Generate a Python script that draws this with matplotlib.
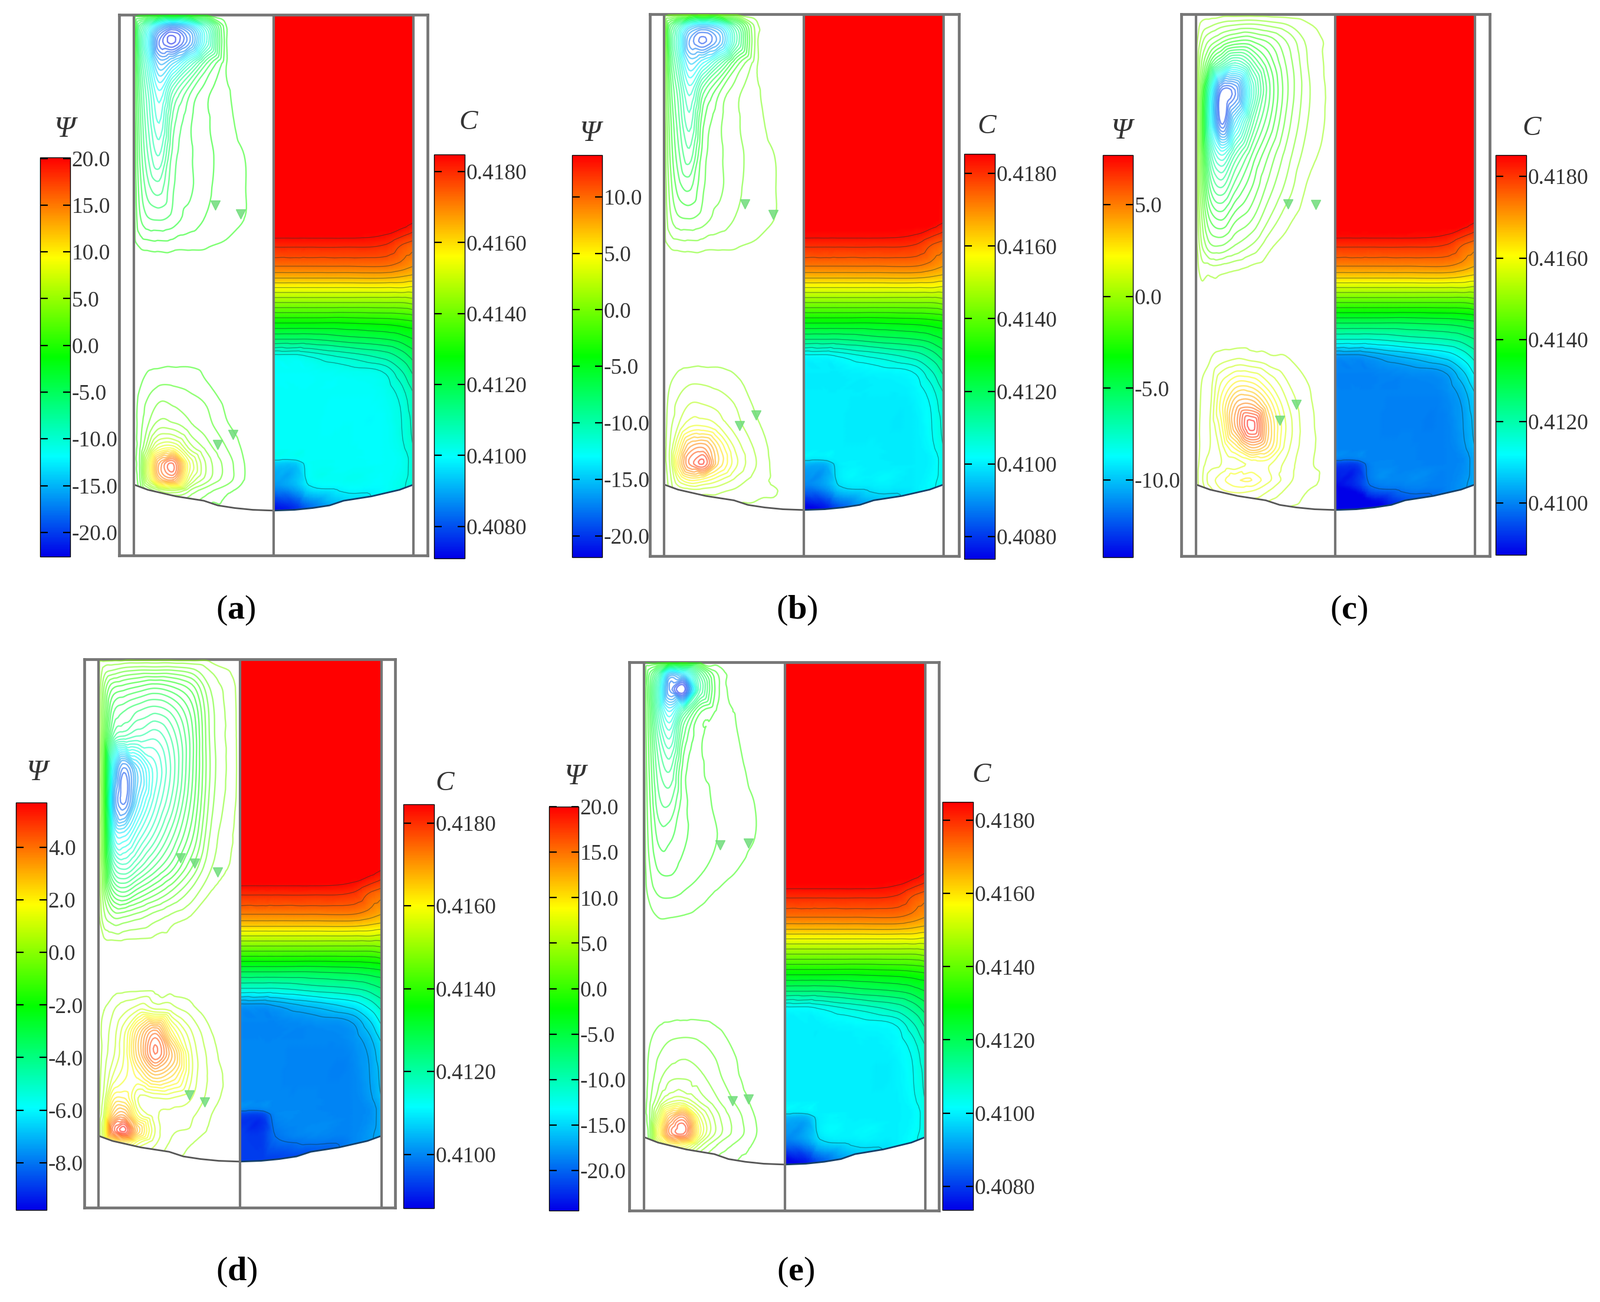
import numpy as np
import matplotlib
matplotlib.use('Agg')
import matplotlib.pyplot as plt
import matplotlib.tri as mtri
from matplotlib.cm import ScalarMappable
from matplotlib.colors import LinearSegmentedColormap, Normalize
from matplotlib.patches import Polygon

plt.rcParams['font.family'] = ['Liberation Serif', 'DejaVu Serif']
plt.rcParams['axes.unicode_minus'] = False
plt.rcParams['mathtext.fontset'] = 'custom'
plt.rcParams['mathtext.bf'] = 'Liberation Serif:bold'
plt.rcParams['mathtext.rm'] = 'Liberation Serif'

W, H = 2713, 2208
names = ['a', 'b', 'c', 'd', 'e']

# stream function, left half. columns run from the wall to the axis,
# rows from the top of the frame down. upper cell is negative, lower positive
psi_u = [.04, .1, .18, .28, .4, .52, .66, .8]
psi_v_top = [.02, .05, .09, .14, .20, .26, .32, .38, .43, .47]
psi_v_bot = [.60, .64, .68, .72, .76, .80, .83, .86, .88]

psi_top_a = [[5, 9, 14, 17, 14, 8, .3, 0],
             [6, 12, 20, 22, 18, 10, .4, 0],
             [5, 10, 16, 14, 9, 4, .35, 0],
             [4, 8, 12, 7, 3.4, 1.4, .42, 0],
             [3.4, 7, 10, 4.5, 2.2, 1.15, .5, .1],
             [3, 6, 8, 3.6, 2.2, 1.3, .6, .28],
             [2.4, 4.6, 5.5, 3.1, 2.2, 1.2, .55, .3],
             [1.7, 2.8, 3, 2.5, 1.5, .9, .55, .28],
             [.3, .45, .5, .45, .38, .32, .2, .05],
             [0, 0, 0, 0, 0, 0, 0, 0]]
psi_bot_a = [[0, 0, 0, 0, 0, 0, 0, 0],
             [.05, .08, .1, .15, .18, .12, .03, 0],
             [.2, .6, .85, .85, .7, .32, .05, 0],
             [.5, 1.2, 2.1, 1.9, 1.4, .95, .2, 0],
             [.6, 2, 3.6, 3.4, 2.3, 1.4, .4, .03],
             [.8, 4, 8, 8.5, 4.6, 2.6, 1, .15],
             [1, 7, 15, 18, 8, 3.8, 1.6, .25],
             [.8, 6, 13, 15, 6.5, 3.4, 1.5, .25],
             [.3, 2, 4, 5, 3, 1.4, .5, .15]]

psi_top_b = [[5, 8.5, 13, 15, 13, 7, .5, 0],
             [6, 11, 18, 20, 17, 9, .6, 0],
             [5, 9.5, 15, 13, 8.5, 3.6, .45, 0],
             [4, 7.5, 11.5, 6.5, 3.2, 1.4, .42, 0],
             [3.3, 6.5, 9.5, 4.2, 2.2, 1.15, .5, .1],
             [2.9, 5.6, 7.6, 3.5, 2.2, 1.3, .6, .28],
             [2.3, 4.4, 5.2, 3.1, 2.2, 1.2, .55, .3],
             [1.6, 2.7, 2.9, 2.4, 1.5, .9, .55, .28],
             [.3, .45, .5, .45, .38, .32, .2, .05],
             [0, 0, 0, 0, 0, 0, 0, 0]]
psi_bot_b = [[0, 0, 0, 0, 0, 0, 0, 0],
             [.05, .08, .12, .15, .18, .12, .04, 0],
             [.25, .6, .9, .9, .7, .4, .08, 0],
             [.5, 1.2, 2, 2, 1.6, .9, .2, 0],
             [.7, 2, 3.8, 4, 2.8, 1.4, .42, .02],
             [1, 4.5, 9, 10, 6, 2.6, .8, .1],
             [1, 6, 11, 13, 6.5, 3.1, 1, .12],
             [.6, 3, 5, 4.5, 3, 1.6, .6, .2],
             [.4, 1.2, 1.5, 1.5, 1.2, .8, .45, .32]]

psi_top_c = [[.3, .5, .8, 1, 1.1, .9, .6, .25],
             [.8, 1.6, 2.3, 3, 3, 2.4, 1.4, .5],
             [1.5, 3.5, 5.5, 7, 5.4, 3.5, 1.8, .6],
             [2.2, 7.5, 12.8, 12.5, 7.5, 4.2, 2, .7],
             [2.4, 8, 13, 9.5, 5.8, 3.6, 1.7, .6],
             [2.2, 6, 8, 6, 4, 2.5, 1.2, .4],
             [1.9, 4.5, 5.5, 4.2, 3, 1.8, .8, .15],
             [1.4, 3, 3.5, 2.6, 2, 1, .3, 0],
             [.9, 1.8, 1.9, 1.4, .9, .3, .05, 0],
             [.4, .4, .38, .25, .1, 0, 0, 0]]
psi_bot_c = [[0, 0, 0, 0, 0, 0, 0, 0],
             [.1, .2, .5, .7, .6, .4, .25, .05],
             [.2, .4, 1.5, 2.5, 2.5, 1.5, .6, .2],
             [.25, .5, 2.2, 4.5, 5, 3, 1, .3],
             [.3, .6, 1.8, 5, 7.8, 4, 1.3, .35],
             [.3, .6, 1.2, 2.6, 4.5, 3.4, 1.1, .35],
             [.4, .8, 1, 1.2, 1.6, 1.6, .8, .3],
             [.5, 1.2, 1.8, 2.4, 2.5, 1.6, .7, .35],
             [.3, .8, 1.4, 1.6, 1.5, 1, .5, .2]]

psi_top_d = [[.5, .7, .9, 1, 1, 1, .8, .3],
             [1, 1.8, 2, 2.2, 2.4, 2.2, 1.7, .6],
             [1.2, 2.6, 3, 3.3, 3.5, 3.2, 2.3, .8],
             [1.4, 3.4, 4, 4.3, 4.5, 3.9, 2.6, .85],
             [1.6, 6, 8.5, 6.8, 5.3, 4.2, 2.6, .9],
             [1.6, 7, 8.8, 6.5, 5, 3.9, 2.4, .8],
             [1.5, 5.5, 6.2, 5.2, 4.2, 3.2, 2, .6],
             [1.3, 3.8, 4.4, 3.8, 3, 2.3, 1.3, .35],
             [1, 2.2, 2.6, 2.1, 1.6, 1.1, .5, .06],
             [.6, 1, 1, .8, .5, .25, .07, 0]]
psi_bot_d = [[0, 0, .02, .02, .02, 0, 0, 0],
             [.1, .3, .6, 1, .8, .6, .2, .02],
             [.2, .5, 1.2, 2.8, 4.2, 2, .7, .1],
             [.2, .6, 1.3, 3, 4.9, 3.4, 1, .2],
             [.3, 1, 1.5, 2, 3, 2.5, 1, .25],
             [.5, 2, 2.2, 1, 1, 1, .7, .2],
             [.8, 3, 3.6, 1.5, .8, .6, .4, .1],
             [1.2, 4.6, 5.6, 3, 1, .4, .3, .05],
             [.8, 2, 2.5, 1.5, .8, .3, .12, 0]]

psi_top_e = [[3, 7, 16, 14, 6, 1, .02, 0],
             [3.5, 10, 20, 24, 8, 1.4, .1, 0],
             [3, 9, 14, 8, 2.2, .8, .25, .02],
             [2.6, 7, 10, 4, 1.2, .7, .33, .08],
             [2.2, 5.5, 7, 2.5, 1.2, .75, .42, .18],
             [1.8, 4.5, 5, 2.4, 1.4, .85, .5, .28],
             [1.4, 3.2, 3.2, 2.2, 1.5, 1, .55, .28],
             [.9, 2, 2.2, 1.6, 1.1, .7, .3, .1],
             [.4, .9, 1, .8, .45, .15, .02, 0],
             [.1, .25, .25, .2, .1, 0, 0, 0]]
psi_bot_e = [[0, 0, 0, 0, 0, 0, 0, 0],
             [0, .02, .05, .1, .12, .08, 0, 0],
             [.2, .5, .8, .9, .8, .45, .1, 0],
             [.4, 1, 1.6, 1.9, 1.5, .9, .28, 0],
             [.5, 1.6, 2.8, 3, 2.4, 1.3, .4, .02],
             [.8, 3, 5.5, 6, 3.8, 2.2, .8, .1],
             [1, 6, 13, 16, 7, 3.4, 1.4, .25],
             [.8, 8, 16, 18, 8, 3.6, 1.5, .3],
             [.5, 5, 9, 9, 4.5, 2, .8, .2]]

psi_top = [psi_top_a, psi_top_b, psi_top_c, psi_top_d, psi_top_e]
psi_bot = [psi_bot_a, psi_bot_b, psi_bot_c, psi_bot_d, psi_bot_e]

# contour magnitudes drawn in each panel
psi_levels_a = [.3, 1, 2, 3, 4, 5, 6, 7, 8, 9, 10, 11, 12, 13, 14, 15, 16, 17, 18, 19, 20, 21, 21.8]
psi_levels_b = [.3, 1, 2, 3, 4, 5, 6, 7, 8, 9, 10, 11, 12, 13, 14, 15, 16, 17, 18, 19, 19.8]
psi_levels_c = [.2, .6, 1, 1.5, 2, 2.5, 3, 3.5, 4, 4.5, 5, 5.5, 6, 6.5, 7, 7.5, 8, 8.5, 9, 9.5, 10, 10.5, 11, 11.5, 12,
                12.5, 12.9]
psi_levels_d = [.1, .35, .7, 1, 1.3, 1.6, 1.9, 2.2, 2.5, 2.8, 3.1, 3.4, 3.7, 4, 4.3, 4.6, 4.9, 5.2, 5.5, 5.8,
                6.1, 6.4, 6.7, 7, 7.3, 7.6, 8, 8.4, 8.7]
psi_levels_e = [.3, 1, 2, 3, 4, 5, 6, 7, 8, 9, 10, 11, 12, 13, 14, 15, 16, 17, 18, 19, 20, 21, 22, 23]
psi_levels = [psi_levels_a, psi_levels_b, psi_levels_c, psi_levels_d, psi_levels_e]

# concentration, right half. columns from the axis to the wall. shared by panels
c_u = [0, .16, .25, .5, .8, .92, 1]
c_v = [0, .38, .41, .425, .465, .487, .50, .53, .57, .60, .63, .66, .70, .80, .82, .83, .87, .915, 1]
c_field = [[.4186, .4186, .4186, .4186, .4186, .4186, .4186],
           [.4186, .4186, .4186, .4186, .4186, .4186, .4184],
           [.4184, .4184, .4184, .4184, .4183, .4180, .4178],
           [.4181, .4181, .4181, .4181, .4180, .4176, .4174],
           [.4172, .4172, .4172, .4172, .4172, .4170, .4168],
           [.4164, .4164, .4164, .4164, .4164, .4163, .4162],
           [.4158, .4158, .4158, .4158, .4158, .4158, .4157],
           [.4145, .4145, .4145, .4145, .4145, .4145, .4146],
           [.4128, .4128, .4128, .4128, .4129, .4130, .4131],
           [.4116, .4116, .4116, .4118, .4120, .4122, .4124],
           [.4102, .4102, .4103, .4106, .4110, .4114, .4118],
           [.4100, .4100, .4100, .4101, .4103, .4108, .4113],
           [.4100, .4100, .4100, .4100, .4101, .4104, .4108],
           [.4100, .4100, .4100, .4100, .4100, .4102, .4105],
           [.4100, .4100, .4100, .4100, .4100, .4101, .4104],
           [.4094, .4094, .4100, .4100, .4100, .4101, .4104],
           [.4088, .4092, .4098, .4100, .4100, .4102, .4104],
           [.4072, .4076, .4082, .4092, .4100, .4102, .4104],
           [.4072, .4076, .4082, .4092, .4100, .4102, .4104]]
c_floor = [.4060, .4060, .4060, .4093, .4060]  # panel d has no dark pocket at the bottom
c_lines = [.4098, .41025, .4105, .4108, .4112, .4116, .4120, .4124, .4128, .4132, .4136, .4140, .4144, .4148,
           .4152, .4156, .4160, .4164, .4168, .4172, .4176, .4180, .41835]

# colour bar ranges and ticks
psi_min = [-22.6, -21.9, -14.2, -9.8, -24.4]
psi_max = [20.1, 13.7, 7.7, 5.7, 20.0]
psi_ticks_a = [20.0, 15.0, 10.0, 5.0, 0.0, -5.0, -10.0, -15.0, -20.0]
psi_ticks_b = [10.0, 5.0, 0.0, -5.0, -10.0, -15.0, -20.0]
psi_ticks_c = [5.0, 0.0, -5.0, -10.0]
psi_ticks_d = [4.0, 2.0, 0.0, -2.0, -4.0, -6.0, -8.0]
psi_ticks_e = [20.0, 15.0, 10.0, 5.0, 0.0, -5.0, -10.0, -15.0, -20.0]
psi_ticks = [psi_ticks_a, psi_ticks_b, psi_ticks_c, psi_ticks_d, psi_ticks_e]

c_min = [.4071, .40738, .40873, .4087, .40735]
c_max = [.41848, .41854, .41852, .41845, .4185]
c_ticks_a = [.4180, .4160, .4140, .4120, .4100, .4080]
c_ticks_c = [.4180, .4160, .4140, .4120, .4100]
c_ticks = [c_ticks_a, c_ticks_a, c_ticks_c, c_ticks_c, c_ticks_a]

# bottom curve, fraction of the frame height at wall and at axis
curve_left = [.869, .868, .868, .869, .866]
curve_axis = [.917, .915, .915, .916, .916]
curve_u = [0, .1, .3, .5, .6, .72, .85, 1]
curve_t = [0, .2, .45, .62, .8, .9, .97, 1]

# flow arrows on the streamlines (u, v)
arrows = [[(.58, .352), (.765, .369), (.60, .795), (.71, .776)],
          [(.58, .35), (.78, .37), (.54, .76), (.66, .74)],
          [(.66, .35), (.86, .352), (.6, .75), (.72, .72)],
          [(.58, .362), (.68, .372), (.84, .388), (.64, .795), (.75, .808)],
          [(.54, .333), (.74, .33), (.63, .80), (.74, .797)]]

# layout in reference pixels
frame_x = [(202, 725), (1102, 1626), (2003, 2526), (143, 670), (1067, 1592)]
frame_y = [(25, 942), (24, 943), (24, 943), (1118, 2048), (1123, 2053)]
wall_l = [227, 1126, 2028, 167, 1092]
axis_x = [463, 1363, 2265, 408, 1330]
wall_r = [701, 1600, 2501, 647, 1569]
psi_bar = [(68, 119, 267, 944), (970, 1021, 263, 945), (1870, 1921, 263, 945), (27, 79, 1361, 2052), (931, 981, 1368, 2053)]
c_bar = [(736, 788, 262, 947), (1635, 1687, 261, 948), (2536, 2588, 263, 941), (684, 736, 1364, 2049), (1598, 1650, 1360, 2052)]
psi_label = [(109, 220), (1000, 227), (1901, 223), (62, 1311), (974, 1318)]
c_label = [(794, 208), (1673, 215), (2597, 218), (754, 1329), (1664, 1315)]
caption = [(400, 1035), (1351, 1035), (2287, 1035), (401, 2157), (1349, 2157)]

jet = LinearSegmentedColormap.from_list('jet5', ['#0000e8', '#00ffff', '#00ff00', '#ffff00', '#ff0000'])
frame_col = '#767676'
text_col = '#333333'
split_v = .56  # the two cells never cross this height

fig = plt.figure(figsize=(W / 100, H / 100), dpi=100, facecolor='white')


def px_axes(x0, x1, y0, y1):
    return fig.add_axes([x0 / W, 1 - y1 / H, (x1 - x0) / W, (y1 - y0) / H])


def draw_bar(box, norm, ticks, fmt):
    cax = px_axes(box[0], box[1], box[2], box[3])
    cb = fig.colorbar(ScalarMappable(norm=norm, cmap=jet), cax=cax, ticks=ticks, format=fmt)
    cb.outline.set_linewidth(1.0)
    cax.tick_params(axis='y', direction='in', length=9, width=1.6, left=True, right=True,
                    labelsize=27, labelcolor=text_col, pad=2)


def refined(xs, ys, z):
    gx, gy = np.meshgrid(xs, ys)
    tri = mtri.Triangulation(gx.ravel(), gy.ravel())
    interp = mtri.CubicTriInterpolator(tri, np.ravel(z), kind='geom')
    return mtri.UniformTriRefiner(tri).refine_field(np.ravel(z), triinterpolator=interp, subdiv=3)


for i in range(5):
    ax = px_axes(frame_x[i][0], frame_x[i][1], frame_y[i][0], frame_y[i][1])
    half = axis_x[i] - wall_l[i]
    half_r = wall_r[i] - axis_x[i]
    ax.set_xlim((frame_x[i][0] - wall_l[i]) / half, 1 + (frame_x[i][1] - axis_x[i]) / half_r)
    ax.set_ylim(1, 0)
    ax.set_xticks([])
    ax.set_yticks([])
    for s in ax.spines.values():
        s.set_color(frame_col)
        s.set_linewidth(3.4)

    # domain outline, left and right of the axis
    cu = np.array(curve_u)
    cv = curve_left[i] + (curve_axis[i] - curve_left[i]) * np.array(curve_t)
    clip_neg = Polygon([[0, 0], [0, split_v], [1, split_v], [1, 0]], transform=ax.transData)
    clip_pos = Polygon(np.vstack([[[0, split_v]], np.column_stack([cu, cv]), [[1, split_v]]]), transform=ax.transData)
    clip_r = Polygon(np.vstack([[[1, 0]], np.column_stack([2 - cu[::-1], cv[::-1]]), [[2, 0]]]), transform=ax.transData)

    # C field
    cnorm = Normalize(c_min[i], c_max[i])
    cfine, czfine = refined(1 + np.array(c_u), c_v, np.maximum(np.array(c_field), c_floor[i]))
    pm = ax.tripcolor(cfine, czfine, shading='gouraud', cmap=jet, norm=cnorm, zorder=1)
    pm.set_clip_path(clip_r)
    cs = ax.tricontour(cfine, czfine, levels=c_lines, colors='#103030', linewidths=1.0, alpha=.45, zorder=2)
    cs.set_clip_path(clip_r)

    # stream function
    uu = np.array([0] + psi_u + [1.0])
    vv = np.array([0] + psi_v_top + [.52, split_v] + psi_v_bot + [.93])
    rows = [np.zeros(8)] + [-np.array(r, float) for r in psi_top[i]] + [np.zeros(8), np.zeros(8)]
    rows += [np.array(r, float) for r in psi_bot[i]] + [np.zeros(8)]
    zz = np.array(rows)
    zz = np.hstack([np.zeros((zz.shape[0], 1)), zz, np.zeros((zz.shape[0], 1))])
    fine, zfine = refined(uu, vv, zz)
    lev = np.array(psi_levels[i])
    pnorm = Normalize(psi_min[i], psi_max[i])
    st = ax.tricontour(fine, zfine, levels=-lev[::-1], cmap=jet, norm=pnorm, linewidths=1.7, alpha=.55, zorder=3)
    st.set_clip_path(clip_neg)
    st = ax.tricontour(fine, zfine, levels=lev, cmap=jet, norm=pnorm, linewidths=1.7, alpha=.55, zorder=3)
    st.set_clip_path(clip_pos)

    for au, av in arrows[i]:
        ax.plot(au, av, marker='v', ms=12, color='#6fdc7a', alpha=.85, zorder=4)

    # walls, axis and bottom curve
    ax.plot(cu, cv, color='#555555', lw=2, zorder=5)
    ax.plot(2 - cu, cv, color='#14406a', lw=2, zorder=5)
    for xw in [0, 1, 2]:
        ax.plot([xw, xw], [0, 1], color=frame_col, lw=3.0, zorder=6)

    draw_bar(psi_bar[i], pnorm, psi_ticks[i], '%.1f')
    draw_bar(c_bar[i], cnorm, c_ticks[i], '%.4f')

    fig.text(psi_label[i][0] / W, 1 - psi_label[i][1] / H, '\u03a8', fontsize=37, style='italic',
             color=text_col, ha='center', va='center')
    fig.text(c_label[i][0] / W, 1 - c_label[i][1] / H, 'C', fontsize=34, style='italic',
             color=text_col, ha='center', va='center')
    fig.text(caption[i][0] / W, 1 - caption[i][1] / H, '($\\mathbf{%s}$)' % names[i], fontsize=42,
             color='black', ha='center', va='center')

fig.savefig('out.png', dpi=100, facecolor='white')
